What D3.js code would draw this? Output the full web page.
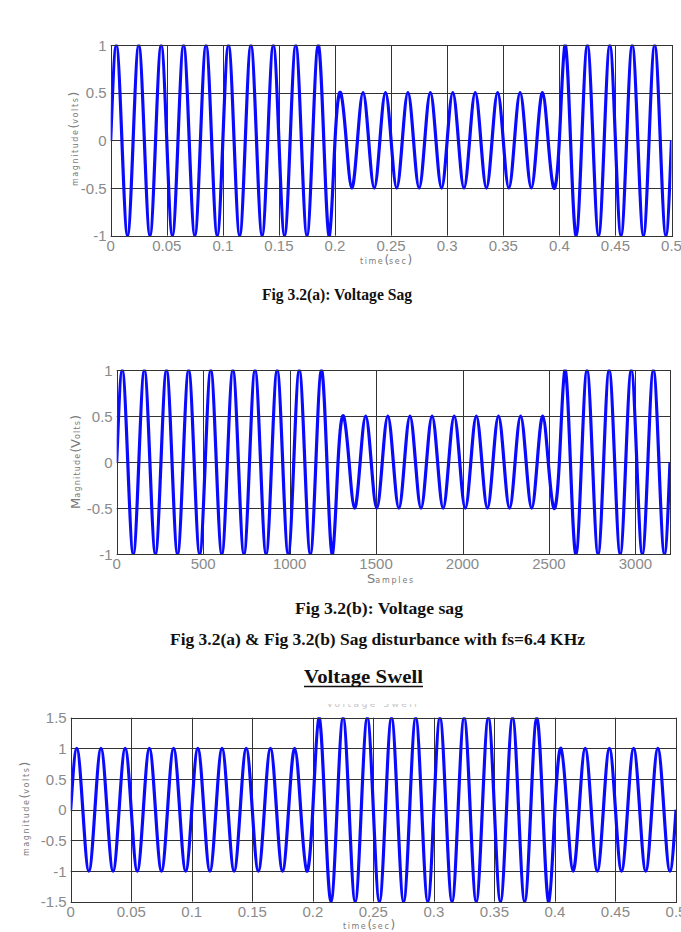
<!DOCTYPE html>
<html>
<head>
<meta charset="utf-8">
<script src="https://cdn.jsdelivr.net/npm/d3@7"></script>
<style>
  html, body { margin: 0; padding: 0; background: #fff; }
  svg { display: block; }
</style>
</head>
<body>
<svg id="chart" width="681" height="932"></svg>
<script>
// ---------------- DATA ----------------
// amplitude of each 50 Hz cycle (25 cycles over 0.5 s)
const sagAmplitude   = [1,1,1,1,1,1,1,1,1,1, 0.5,0.5,0.5,0.5,0.5,0.5,0.5,0.5,0.5,0.5, 1,1,1,1,1];
const swellAmplitude = [1,1,1,1,1,1,1,1,1,1, 1.5,1.5,1.5,1.5,1.5,1.5,1.5,1.5,1.5,1.5, 1,1,1,1,1];
const cyclePeriodSec = 0.02;     // 50 Hz
const cyclePeriodSamples = 128;  // fs = 6.4 kHz
// quarter-cycle shape of one cycle: zero, peak, zero, trough
const cycleShape = [0, 1, 0, -1];

const timeTicks   = [0, 0.05, 0.1, 0.15, 0.2, 0.25, 0.3, 0.35, 0.4, 0.45, 0.5];
const sampleTicks = [0, 500, 1000, 1500, 2000, 2500, 3000];
const voltTicks   = [-1, -0.5, 0, 0.5, 1];
const voltTicks15 = [-1.5, -1, -0.5, 0, 0.5, 1, 1.5];

const captions = [
  "Fig 3.2(a): Voltage Sag",
  "Fig 3.2(b): Voltage sag",
  "Fig 3.2(a) & Fig 3.2(b) Sag disturbance with fs=6.4 KHz"
];
const sectionTitle = "Voltage Swell";

// build key points (zero crossings and extrema) from cycle amplitudes
function keyPoints(amps, period) {
  const pts = [];
  amps.forEach((a, k) => {
    cycleShape.forEach((s, q) => pts.push({x: (k + q / 4) * period, y: s * a}));
  });
  pts.push({x: amps.length * period, y: 0});
  return pts;
}

// ---------------- DRAW ----------------
const svg = d3.select("#chart");
const defs = svg.append("defs");
const tickColor = "#8a8a8a";
const gridColor = "#333";

function panel(cfg) {
  const x = d3.scaleLinear().domain(cfg.xDomain).range([cfg.left, cfg.right]);
  const y = d3.scaleLinear().domain(cfg.yDomain).range([cfg.bottom, cfg.top]);
  const g = svg.append("g");

  // grid
  g.selectAll(null).data(cfg.xTicks).enter().append("line")
    .attr("x1", d => Math.round(x(d)) + 0.5).attr("x2", d => Math.round(x(d)) + 0.5)
    .attr("y1", cfg.top).attr("y2", cfg.bottom)
    .attr("stroke", gridColor).attr("stroke-width", 1);
  g.selectAll(null).data(cfg.yTicks).enter().append("line")
    .attr("y1", d => Math.round(y(d)) + 0.5).attr("y2", d => Math.round(y(d)) + 0.5)
    .attr("x1", cfg.left).attr("x2", cfg.right)
    .attr("stroke", gridColor).attr("stroke-width", 1);

  // signal
  const id = "clip" + cfg.id;
  defs.append("clipPath").attr("id", id).append("rect")
    .attr("x", cfg.left).attr("y", cfg.top - 0.5)
    .attr("width", cfg.right - cfg.left).attr("height", cfg.bottom - cfg.top + 1);
  const line = d3.line().x(d => x(d.x)).y(d => y(d.y)).curve(d3.curveNatural);
  g.append("path").datum(cfg.points)
    .attr("clip-path", `url(#${id})`)
    .attr("d", line)
    .attr("fill", "none").attr("stroke", "#0a0aff")
    .attr("stroke-width", 3.2).attr("stroke-linejoin", "round");

  // frame
  g.append("rect")
    .attr("x", Math.round(cfg.left) + 0.5).attr("y", Math.round(cfg.top) + 0.5)
    .attr("width", Math.round(cfg.right) - Math.round(cfg.left))
    .attr("height", Math.round(cfg.bottom) - Math.round(cfg.top))
    .attr("fill", "none").attr("stroke", gridColor).attr("stroke-width", 1);

  // tick labels
  g.selectAll(null).data(cfg.xTicks).enter().append("text")
    .attr("x", d => x(d)).attr("y", cfg.bottom + cfg.xLabelOffset)
    .attr("text-anchor", "middle")
    .attr("font-family", "Liberation Sans, Arial, sans-serif")
    .attr("font-size", 15).attr("fill", tickColor)
    .text(d => String(d));
  g.selectAll(null).data(cfg.yTicks).enter().append("text")
    .attr("x", cfg.left - 4).attr("y", d => y(d) + 5.5)
    .attr("text-anchor", "end")
    .attr("font-family", "Liberation Sans, Arial, sans-serif")
    .attr("font-size", 15).attr("fill", tickColor)
    .text(d => String(d));
  return {x, y, g};
}

// axis label helper: array of [text, size, letterSpacing]
function label(parent, parts, x, y, rotate) {
  const t = parent.append("text")
    .attr("text-anchor", "middle")
    .attr("font-family", "DejaVu Sans, Liberation Sans, sans-serif")
    .attr("fill", "#7a7a7a")
    .attr("transform", `translate(${x},${y})` + (rotate ? " rotate(-90)" : ""));
  parts.forEach(([s, size, ls]) => {
    t.append("tspan").attr("font-size", size).attr("letter-spacing", ls || 0).text(s);
  });
  return t;
}

// Panel 1: Voltage Sag (time)
panel({
  id: 1, left: 110.7, right: 671.5, top: 45, bottom: 235.7, xLabelOffset: 15.5,
  xDomain: [0, 0.5], yDomain: [-1, 1],
  xTicks: timeTicks, yTicks: voltTicks,
  points: keyPoints(sagAmplitude, cyclePeriodSec)
});
label(svg, [["time", 8, 1.6], ["(", 12], ["sec", 8, 1.6], [")", 12]], 386, 264, false);
label(svg, [["magnitude", 8, 1.6], ["(", 12], ["volts", 8, 1.6], [")", 12]], 78, 139, true);

// Panel 2: Voltage sag (samples)
panel({
  id: 2, left: 116.7, right: 670, top: 370, bottom: 554.3, xLabelOffset: 14.5,
  xDomain: [0, 3200], yDomain: [-1, 1],
  xTicks: sampleTicks, yTicks: voltTicks,
  points: keyPoints(sagAmplitude, cyclePeriodSamples)
});
label(svg, [["S", 13], ["amples", 8, 1.8]], 391, 583, false);
label(svg, [["M", 13], ["agnitude", 8, 1.2], ["(", 12], ["V", 13], ["olts", 8, 1.2], [")", 12]], 80, 462, true);

// Panel 3: Voltage Swell (time)
// faint matlab title, mostly hidden above the axes (only its lower edge shows)
defs.append("clipPath").attr("id", "titleClip").append("rect")
  .attr("x", 0).attr("y", 704).attr("width", 681).attr("height", 6);
svg.append("text")
  .attr("clip-path", "url(#titleClip)")
  .attr("x", 373).attr("y", 707).attr("text-anchor", "middle")
  .attr("font-family", "DejaVu Sans, sans-serif").attr("font-size", 9)
  .attr("letter-spacing", 2.5).attr("fill", "#c4c4c4")
  .text(sectionTitle);
panel({
  id: 3, left: 70.7, right: 676, top: 717.7, bottom: 901.7, xLabelOffset: 15,
  xDomain: [0, 0.5], yDomain: [-1.5, 1.5],
  xTicks: timeTicks, yTicks: voltTicks15,
  points: keyPoints(swellAmplitude, cyclePeriodSec)
});
label(svg, [["time", 8, 1.6], ["(", 12], ["sec", 8, 1.6], [")", 12]], 369, 929, false);
label(svg, [["magnitude", 8, 1.6], ["(", 12], ["volts", 8, 1.6], [")", 12]], 29, 809, true);

// Captions
function caption(text, x0, x1, baseline, size, underline) {
  svg.append("text")
    .attr("x", x0).attr("y", baseline)
    .attr("font-family", "Liberation Serif, Times New Roman, serif")
    .attr("font-weight", "bold").attr("font-size", size)
    .attr("fill", "#111")
    .attr("textLength", x1 - x0).attr("lengthAdjust", "spacingAndGlyphs")
    .text(text);
  if (underline) {
    svg.append("line").attr("x1", x0).attr("x2", x1)
      .attr("y1", baseline + 3.5).attr("y2", baseline + 3.5)
      .attr("stroke", "#111").attr("stroke-width", 1.4);
  }
}
caption(captions[0], 262, 412, 299.5, 16);
caption(captions[1], 295, 463, 614, 16);
caption(captions[2], 170, 585, 645, 16);
caption(sectionTitle, 304, 423, 683, 19, true);
</script>
</body>
</html>
